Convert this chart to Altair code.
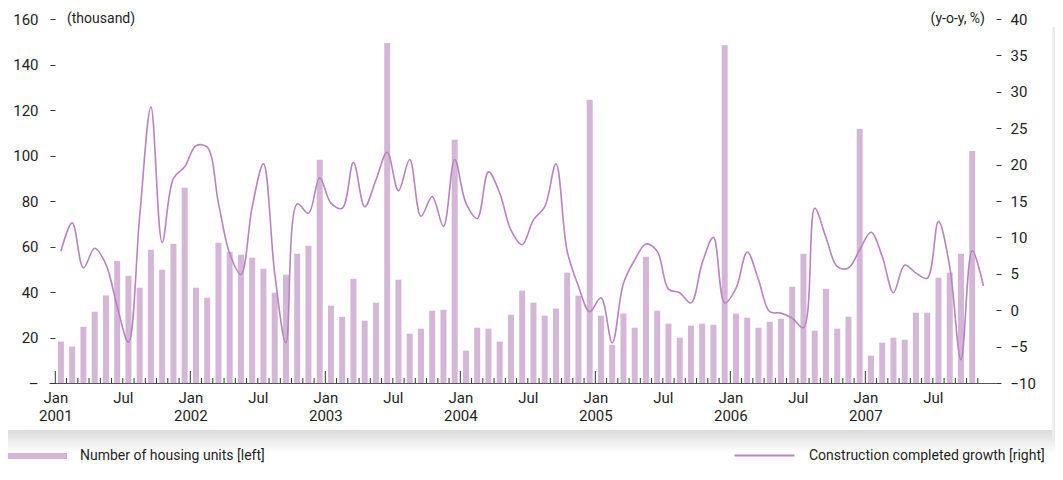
import altair as alt
import pandas as pd

# ---------------- data ----------------
housing_units = [
    18.2, 16.0, 24.7, 31.3, 38.5, 53.7, 47.1, 41.9, 58.6, 49.8, 61.2, 85.8,      # 2001
    41.9, 37.5, 61.6, 57.7, 56.4, 55.1, 50.2, 39.7, 47.6, 56.8, 60.3, 98.1,      # 2002
    34.0, 29.1, 45.8, 27.4, 35.3, 149.5, 45.4, 21.7, 23.9, 31.8, 32.2, 106.9,    # 2003
    14.2, 24.3, 23.9, 18.2, 30.0, 40.6, 35.3, 29.6, 32.7, 48.5, 38.4, 124.5,     # 2004
    29.6, 16.8, 30.5, 24.3, 55.5, 31.8, 26.1, 19.9, 25.2, 26.1, 25.6, 148.5,     # 2005
    30.5, 28.7, 24.3, 26.9, 28.3, 42.3, 56.8, 23.0, 41.4, 23.9, 29.1, 111.7,     # 2006
    12.0, 17.7, 19.9, 19.0, 30.9, 30.9, 46.3, 48.5, 56.8, 102.0,                 # 2007
]
growth = [
    8.1, 12.0, 5.8, 8.5, 6.3, 0.5, -4.4, 12.9, 27.9, 9.3, 18.1, 19.7,            # 2001
    22.6, 22.4, 14.7, 7.8, 4.9, 14.2, 20.1, 5.1, -4.5, 14.6, 13.3, 18.2,         # 2002
    14.7, 14.0, 20.3, 14.2, 17.9, 21.7, 16.4, 20.7, 12.9, 15.6, 11.5, 20.7,      # 2003
    14.7, 12.6, 19.0, 16.1, 11.0, 9.0, 12.4, 14.2, 20.1, 8.1, 3.3, -0.2,         # 2004
    1.7, -4.5, 3.7, 6.9, 9.1, 8.1, 2.9, 2.4, 1.0, 6.5, 10.0, 1.0,                # 2005
    3.0, 8.0, 4.2, -0.2, -0.4, -1.1, -2.4, 14.0, 10.0, 6.0, 5.8, 8.3,            # 2006
    10.7, 7.4, 2.4, 6.2, 5.1, 4.4, 12.2, 6.0, -6.8, 8.2, 3.3,                    # 2007
]
start_year = 2001
left_ticks = [0, 20, 40, 60, 80, 100, 120, 140, 160]
right_ticks = [-10, -5, 0, 5, 10, 15, 20, 25, 30, 35, 40]
bar_name = "Number of housing units [left]"
line_name = "Construction completed growth [right]"

def month_label(i):
    return f"{start_year + i // 12}-{i % 12 + 1:02d}"

bars_df = pd.DataFrame({
    "idx": list(range(len(housing_units))),
    "month": [month_label(i) for i in range(len(housing_units))],
    "units": housing_units,
    "series": bar_name,
})
line_df = pd.DataFrame({
    "idx": list(range(len(growth))),
    "month": [month_label(i) for i in range(len(growth))],
    "growth": growth,
    "series": line_name,
})
n_ticks = len(housing_units) + 1
tick_df = pd.DataFrame({"b": [i - 0.5 for i in range(n_ticks)]})
tick_df["jan"] = [(i % 12 == 0) for i in range(n_ticks)]
label_vals = [i - 0.5 for i in range(len(growth)) if i % 12 in (0, 6)]

# ---------------- style ----------------
W, H = 947, 364
FONT = "Roboto"
TXT = "#1e1e1e"
BAR_C = "#d4b7d7"
LINE_C = "#b784c0"

xscale = alt.Scale(domain=[-0.616, 82.67], nice=False, zero=False)

bars = alt.Chart(bars_df).mark_bar(size=6).encode(
    x=alt.X("idx:Q", scale=xscale,
            axis=alt.Axis(values=label_vals, ticks=False, grid=False, title=None,
                          domainColor="#555555", domainWidth=1,
                          labelExpr="(round(datum.value + 0.5) % 12 == 0) ? ['Jan', '' + (2001 + floor((datum.value + 0.5) / 12))] : 'Jul'",
                          labelFont=FONT, labelFontSize=15, labelColor=TXT,
                          labelPadding=7, labelLineHeight=18, labelFlush=False)),
    y=alt.Y("units:Q", scale=alt.Scale(domain=[0, 160], nice=False),
            axis=alt.Axis(orient="left", values=left_ticks, grid=False, domain=False,
                          title=None, tickSize=5, tickColor="#333333", offset=-6,
                          labelPadding=12, labelFont=FONT, labelFontSize=15,
                          labelColor=TXT,
                          labelExpr="datum.value == 0 ? '–' : datum.label")),
    fill=alt.Fill("series:N", scale=alt.Scale(range=[BAR_C]),
                  legend=alt.Legend(orient="none", legendX=-42, legendY=407,
                                    title=None, padding=0,
                                    symbolType="M-1,-0.1H1V0.1H-1Z",
                                    symbolSize=3600, symbolStrokeWidth=0,
                                    labelOffset=13, labelFont=FONT, labelLimit=400,
                                    labelFontSize=14, labelColor=TXT)),
)

line = alt.Chart(line_df).mark_line(interpolate="catmull-rom", strokeWidth=1.6).encode(
    x=alt.X("idx:Q", scale=xscale),
    y=alt.Y("growth:Q", scale=alt.Scale(domain=[-10, 40], nice=False, zero=False),
            axis=alt.Axis(orient="right", values=right_ticks, grid=False, domain=False,
                          title=None, tickSize=5, tickColor="#333333",
                          labelPadding=9, labelFont=FONT, labelFontSize=15,
                          labelColor=TXT)),
    stroke=alt.Stroke("series:N", scale=alt.Scale(range=[LINE_C]),
                      legend=alt.Legend(orient="none", legendX=684, legendY=405,
                                        title=None, padding=0, symbolType="stroke",
                                        symbolSize=3600, symbolStrokeWidth=2.2,
                                        labelOffset=13, labelFont=FONT, labelLimit=400,
                                        labelFontSize=14, labelColor=TXT)),
)

minor_ticks = alt.Chart(tick_df).transform_filter("!datum.jan").mark_rule(
    color="#333333", strokeWidth=1).encode(
    x=alt.X("b:Q", scale=xscale), y=alt.value(H), y2=alt.value(H - 5))
major_ticks = alt.Chart(tick_df).transform_filter("datum.jan").mark_rule(
    color="#333333", strokeWidth=1).encode(
    x=alt.X("b:Q", scale=xscale), y=alt.value(H), y2=alt.value(H - 12))

left_title = alt.Chart(pd.DataFrame({"t": ["(thousand)"]})).mark_text(
    align="left", baseline="middle", font=FONT, fontSize=14, color=TXT).encode(
    text="t:N", x=alt.value(18), y=alt.value(0))
right_title = alt.Chart(pd.DataFrame({"t": ["(y-o-y, %)"]})).mark_text(
    align="right", baseline="middle", font=FONT, fontSize=14, color=TXT).encode(
    text="t:N", x=alt.value(936), y=alt.value(0))

one = pd.DataFrame({"k": [0]})
shadow_bottom = alt.Chart(one).mark_rect(
    color=alt.Gradient(gradient="linear", x1=0, y1=0, x2=0, y2=1,
                       stops=[alt.GradientStop(color="#dadada", offset=0),
                              alt.GradientStop(color="#ffffff", offset=1)])).encode(
    x=alt.value(-41), x2=alt.value(1006), y=alt.value(411), y2=alt.value(434))
shadow_right = alt.Chart(one).mark_rect(
    color=alt.Gradient(gradient="linear", x1=0, y1=0, x2=1, y2=0,
                       stops=[alt.GradientStop(color="#f2f2f2", offset=0),
                              alt.GradientStop(color="#e8e8e8", offset=1)])).encode(
    x=alt.value(1003), x2=alt.value(1006), y=alt.value(8), y2=alt.value(420))

chart = alt.layer(
    shadow_bottom, shadow_right, bars, minor_ticks, major_ticks, line,
    left_title, right_title
).resolve_scale(y="independent", fill="independent", stroke="independent").properties(
    width=W, height=H,
    autosize=alt.AutoSizeParams(type="none"),
    padding={"left": 41, "top": 11, "right": 59, "bottom": 83},
    background="white",
).configure_view(stroke=None).configure_legend(symbolOpacity=1)

chart.save("out.html", embed_options={"renderer": "svg", "actions": False})
